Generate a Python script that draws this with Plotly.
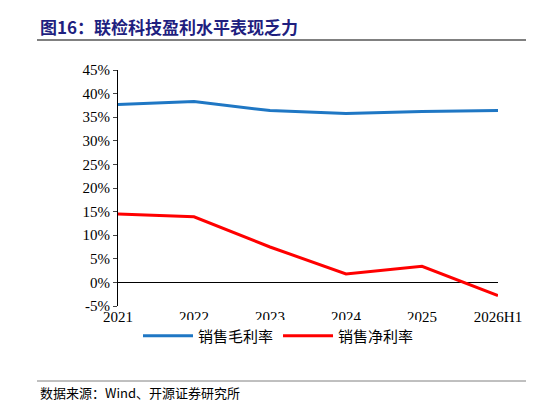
import plotly.graph_objects as go

categories = ["2021", "2022", "2023", "2024", "2025", "2026H1"]
gross_margin = [37.7, 38.3, 36.4, 35.8, 36.2, 36.4]
net_margin = [14.5, 13.9, 7.5, 1.8, 3.4, -2.8]
tick_vals = [-5, 0, 5, 10, 15, 20, 25, 30, 35, 40, 45]
tick_text = [f"{v}%" for v in tick_vals]

H, W = 406, 546
L, R, T, B = 110, 56, 62, 108
ph = H - T - B
pw = W - L - R
def px(x): return (x - L) / pw
def py(y): return (H - B - y) / ph

fig = go.Figure()
fig.add_trace(go.Scatter(x=categories, y=gross_margin, mode="lines", name="销售毛利率",
                         line=dict(color="#1F77C4", width=3)))
fig.add_trace(go.Scatter(x=categories, y=net_margin, mode="lines", name="销售净利率",
                         line=dict(color="#FF0000", width=3)))

fig.update_layout(
    width=W, height=H, plot_bgcolor="white", paper_bgcolor="white",
    margin=dict(l=L, r=R, t=T, b=B, autoexpand=False),
    font=dict(family="Liberation Serif", size=15, color="black"),
    showlegend=True,
    legend=dict(orientation="h", x=px(130), xanchor="left", y=py(328), yanchor="middle",
                font=dict(family="Noto Sans CJK SC", size=15), itemwidth=50),
    xaxis=dict(showgrid=False, showline=False, ticks="", automargin=False,
               tickfont=dict(family="Liberation Serif", size=15)),
    yaxis=dict(range=[-5, 45], tickvals=tick_vals, ticktext=tick_text, showgrid=False,
               showline=True, linecolor="black", ticks="outside", ticklen=4, automargin=False,
               zeroline=True, zerolinecolor="black", zerolinewidth=1,
               tickfont=dict(family="Liberation Serif", size=15)),
    annotations=[
        dict(text="<b>图16：联检科技盈利水平表现乏力</b>", x=px(30), y=py(4), xref="paper", yref="paper",
             showarrow=False, xanchor="left", yanchor="top",
             font=dict(family="Noto Sans CJK SC", size=17, color="#1F1F7F")),
        dict(text="数据来源：Wind、开源证券研究所", x=px(30), y=py(396), xref="paper", yref="paper",
             showarrow=False, xanchor="left", yanchor="bottom",
             font=dict(family="Noto Sans CJK SC", size=13, color="black")),
    ],
)
fig.add_shape(type="line", xref="paper", yref="paper", x0=px(29), x1=px(518), y0=py(32), y1=py(32),
              line=dict(color="#808080", width=2))
fig.add_shape(type="line", xref="paper", yref="paper", x0=px(29), x1=px(518), y0=py(373), y1=py(373),
              line=dict(color="#808080", width=1))
fig.write_html("out.html")
